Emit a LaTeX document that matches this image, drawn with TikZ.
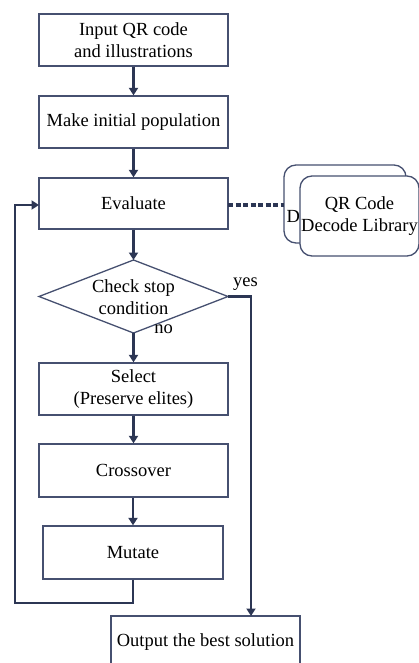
\documentclass[tikz,border=0pt]{standalone}
\usepackage{fontspec}
\setmainfont{Liberation Serif}
\usetikzlibrary{arrows.meta}
\definecolor{ink}{HTML}{2C3654}
\definecolor{edge}{HTML}{465070}
\begin{document}
\begin{tikzpicture}[x=1pt,y=-1pt,
  every node/.style={font=\fontsize{18.5}{22}\selectfont, text=black},
  procbox/.style={draw=edge, line width=1.3pt, fill=white, align=center,
    minimum width=189pt, minimum height=52pt, inner sep=0pt},
  libbox/.style={draw=edge, line width=1.3pt, fill=white, rounded corners=12pt},
  flow/.style={draw=ink, line width=2.6pt, -{Triangle[length=7.5pt,width=9pt]}},
  dotlink/.style={draw=ink, line width=3.5pt, dash pattern=on 5pt off 2.5pt}]
\useasboundingbox (0,0) rectangle (419,663);

% main column of steps
\node[procbox] (input) at (133.5,40) {Input QR code\\and illustrations};
\node[procbox] (init) at (133.5,122) {Make initial population};
\node[procbox, minimum height=51pt] (eval) at (133.5,203.5) {Evaluate};

% decision diamond
\coordinate (chkT) at (133.5,260);
\coordinate (chkB) at (133.5,333);
\coordinate (chkL) at (39,296.5);
\coordinate (chkR) at (228,296.5);
\draw[edge, line width=1.3pt] (chkL) -- (chkT) -- (chkR) -- (chkB) -- cycle;
\node[align=center, inner sep=0pt] (chk) at (133.5,297) {Check stop\\condition};

\node[procbox] (sel) at (133.5,389) {Select\\(Preserve elites)};
\node[procbox, minimum height=53pt] (cross) at (133.5,470.5) {Crossover};
\node[procbox, minimum width=180pt, minimum height=53pt] (mut) at (133,552.5) {Mutate};
\node[procbox] (out) at (205.5,642) {Output the best solution};

% decode library (stacked)
\draw[libbox] (284,165) rectangle (406,243);
\node[anchor=base west, inner sep=0pt] (libD) at (286.5,222) {D};
\node[libbox, minimum width=119pt, minimum height=80pt, align=center, inner sep=0pt]
  (lib) at (359.5,216) {QR Code\\Decode Library};
\coordinate (libIn) at (284,205);

% connectors
\coordinate (yesTurn) at (251,296.5);
\coordinate (outIn) at (251,616);
\coordinate (loopA) at (133,603);
\coordinate (loopB) at (15,603);
\coordinate (loopC) at (15,205);
\coordinate (evalIn) at (39,205);
\coordinate (evalOut) at (228,205);
\draw[flow] (input) -- (init);
\draw[flow] (init) -- (eval);
\draw[flow] (eval) -- (chkT);
\draw[flow] (chkB) -- (sel);
\draw[flow] (sel) -- (cross);
\draw[flow] (cross.south -| mut.north) -- (mut);
\draw[flow] (chkR) -- (yesTurn) -- (outIn);
\draw[flow] (mut.south) -- (loopA) -- (loopB) -- (loopC) -- (evalIn);
\draw[dotlink] (evalOut) -- (libIn);

% branch labels
\node (yes) at (245.5,284) {yes};
\node (no) at (163.5,329) {no};
\end{tikzpicture}
\end{document}
